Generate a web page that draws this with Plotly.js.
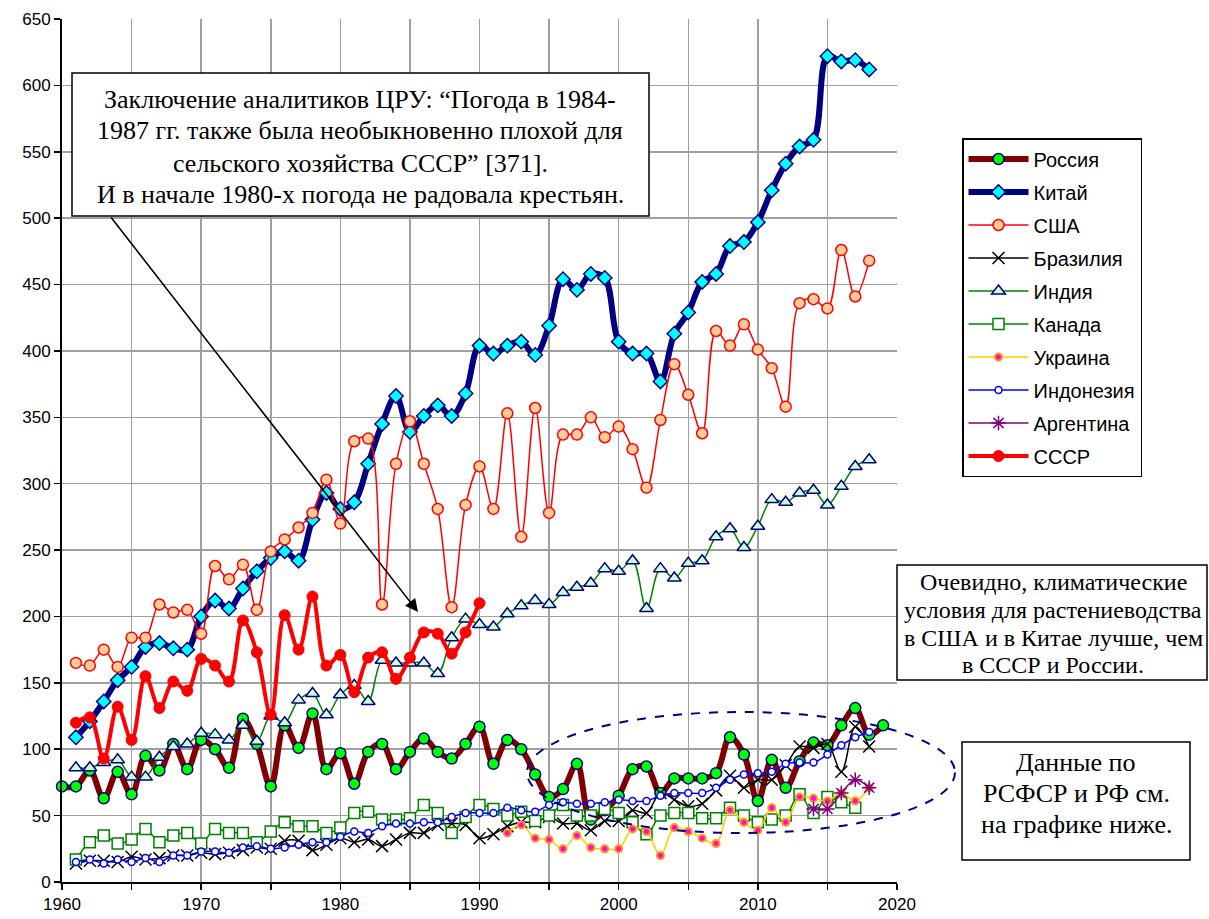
<!DOCTYPE html>
<html>
<head>
<meta charset="utf-8">
<script src="https://cdn.plot.ly/plotly-3.0.1.min.js"></script>
<style>html,body{margin:0;padding:0;background:#fff;}#chart{width:1209px;height:919px;}</style>
</head>
<body>
<div id="chart"></div>
<script>
function range(a, b) { var r = []; for (var i = a; i <= b; i++) r.push(i); return r; }

// ---- data ----
var yearsRussia = range(1960, 2019);
var russia = [72,72,84,63,83,66,95,84,104,85, 107,100,86,123,104,72,118,101,127,85,
  97,74,98,104,85,98,108,98,93,104, 117,89,107,100,81,64,70,89,47,54,
  65,85,87,67,78,78,78,82,109,96, 61,92,71,91,105,103,118,131,111,118];

var yearsChina = range(1961, 2018);
var china = [109,121,136,152,162,177,180,176,175, 200,212,206,221,234,244,249,242,273,293,
  281,286,315,345,366,339,351,359,351,368, 404,398,404,407,397,419,454,446,458,455,
  407,398,398,377,413,429,452,458,479,482, 497,521,541,554,559,622,618,619,612];

var yearsUSA = range(1961, 2018);
var usa = [165,163,175,162,184,184,209,203,205, 187,238,228,239,205,249,258,267,278,303,
  270,332,334,209,315,347,315,281,207,284, 313,281,353,260,357,278,337,337,350,335,
  343,326,297,348,390,367,338,415,404,420, 401,387,358,436,439,432,476,441,468];

var yearsBrazil = range(1961, 2018);
var brazil = [14,16,16,15,19,17,18,20,20, 22,21,22,24,26,25,31,31,24,28,
  33,30,32,27,32,37,37,43,44,43, 33,36,42,45,45,49,44,44,39,46,
  46,54,52,67,62,57,59,69,80,71, 77,77,88,102,101,104,83,117,102];

var yearsIndia = range(1961, 2018);
var india = [86,86,90,92,79,79,94,102,104, 112,111,107,118,106,125,120,137,142,126,
  141,148,136,167,165,165,165,157,184,198, 194,192,202,208,212,209,218,222,225,236,
  234,242,206,236,229,240,242,260,266,252, 268,288,286,293,295,284,298,313,318];

var yearsCanada = range(1961, 2017);
var canada = [17,30,35,29,32,40,30,35,37, 29,40,37,37,30,38,45,42,42,37,
  41,52,53,47,47,48,58,52,37,49, 58,55,50,53,46,50,58,50,50,55,
  52,45,36,50,52,52,48,48,56,50, 45,47,50,66,52,64,60,56];

var yearsUkraine = range(1992, 2018);
var ukraine = [37,43,33,32,25,35,26,25, 25,40,38,20,41,38,33,29,54,45, 39,56,45,64,63,61,67,61,71];

var yearsIndonesia = range(1961, 2018);
var indonesia = [15,17,14,17,15,18,15,20,20, 23,23,22,26,27,25,26,28,30,30,
  34,38,37,42,44,44,45,45,49,52, 52,52,56,54,53,58,60,59,59,60,
  62,61,61,65,67,67,67,71,77,81, 82,83,89,90,90,96,103,109,113];

var yearsArgentina = range(2014, 2018);
var argentina = [55,55,67,77,71];

var yearsUSSR = range(1961, 1990);
var ussr = [120,124,93,132,107,155,131,151,144, 168,163,151,197,173,126,201,175,215,163,
  171,143,169,173,153,169,188,187,172,188, 210];

var xTickVals = [1960,1965,1970,1975,1980,1985,1990,1995,2000,2005,2010,2015,2020];
var xTickText = ['1960','','1970','','1980','','1990','','2000','','2010','','2020'];

var box1Lines = ['Заключение аналитиков ЦРУ: “Погода в 1984-',
  '1987 гг. также была необыкновенно плохой для',
  'сельского хозяйства СССР” [371].',
  'И в начале 1980-х погода не радовала крестьян.'];
var box2Lines = ['Очевидно, климатические', 'условия для растениеводства',
  'в США и в Китае лучше, чем', 'в СССР и России.'];
var box3Lines = ['Данные по', 'РСФСР и РФ см.', 'на графике ниже.'];

// ---- traces ----
function tr(name, x, y, line, marker, grp) {
  return {type:'scatter', mode:'lines+markers', name:name, x:x, y:y,
    line:Object.assign({shape:'spline', smoothing:1}, line), marker:marker,
    legendgroup:grp, cliponaxis:false};
}
var traces = [
  tr('Россия', yearsRussia, russia, {color:'#800000', width:6},
     {symbol:'circle', size:11, color:'#00FF00', line:{color:'#000080', width:1.5}}, 'g01'),
  tr('Китай', yearsChina, china, {color:'#000080', width:6},
     {symbol:'diamond', size:11, color:'#00FFFF', line:{color:'#000080', width:1.5}}, 'g02'),
  tr('США', yearsUSA, usa, {color:'#FF0000', width:1.5},
     {symbol:'circle', size:11, color:'#FFCC99', line:{color:'#FF0000', width:1.5}}, 'g03'),
  tr('Бразилия', yearsBrazil, brazil, {color:'#000000', width:1.5},
     {symbol:'x-thin-open', size:12, color:'#000000', line:{color:'#000000', width:1.5}}, 'g04'),
  tr('Индия', yearsIndia, india, {color:'#008000', width:1.5},
     {symbol:'triangle-up', size:12, color:'#CCFFCC', line:{color:'#000080', width:1.5}}, 'g05'),
  tr('Канада', yearsCanada, canada, {color:'#008000', width:1.5},
     {symbol:'square', size:11, color:'#FFFFFF', line:{color:'#008000', width:1.5}}, 'g06'),
  tr('Украина', yearsUkraine, ukraine, {color:'#FFCC00', width:1.5},
     {symbol:'circle', size:7, color:'#FF00FF', line:{color:'#FF9900', width:2}}, 'g07'),
  tr('Индонезия', yearsIndonesia, indonesia, {color:'#0000FF', width:1.5},
     {symbol:'circle', size:7, color:'#FFFFFF', line:{color:'#0000FF', width:1.5}}, 'g08'),
  tr('Аргентина', yearsArgentina, argentina, {color:'#800080', width:1.5},
     {symbol:'asterisk-open', size:12, color:'#800080', line:{color:'#800080', width:1.5}}, 'g09'),
  tr('СССР', yearsUSSR, ussr, {color:'#FF0000', width:4},
     {symbol:'circle', size:11, color:'#FF0000', line:{color:'#FF0000', width:1}}, 'g10')
];

var L = 62, R = 897, T = 19, B = 882;
function px(xp) { return (xp - L) / (R - L); }
function py(yp) { return (B - yp) / (B - T); }

var serif = 'Liberation Serif, Times New Roman, serif';

var annotations = [
  {xref: 'paper', yref: 'paper', x: px(418), y: py(612), ax: 110 - 418, ay: 216 - 612,
   showarrow: true, arrowhead: 2, arrowsize: 1.6, arrowwidth: 1.6, arrowcolor: '#000', text: ''}
];
function addLines(lines, cx, ys, size) {
  lines.forEach(function (t, i) {
    annotations.push({xref: 'paper', yref: 'paper', x: px(cx), y: py(ys[i]),
      xanchor: 'center', yanchor: 'middle', showarrow: false, text: t,
      font: {family: serif, size: size, color: '#000'}});
  });
}
addLines(box1Lines, 360, [99, 131, 163, 194], 26);
addLines(box2Lines, 1053, [582, 610, 638, 665], 24);
addLines(box3Lines, 1076, [762, 793, 824], 26);

var layout = {
  width: 1209, height: 919,
  margin: {l: L, r: 1209 - R, t: T, b: 919 - B, pad: 0},
  paper_bgcolor: '#FFFFFF', plot_bgcolor: '#FFFFFF',
  showlegend: true,
  font: {family: 'Liberation Sans, Arial, sans-serif', color: '#000', size: 17},
  xaxis: {range: [1960, 2020], tickmode: 'array', tickvals: xTickVals, ticktext: xTickText,
    showgrid: true, gridcolor: '#A0A0A0', gridwidth: 1.5, zeroline: false,
    showline: true, linecolor: '#000', linewidth: 2, ticks: 'outside', ticklen: 6,
    tickwidth: 1.5, tickcolor: '#000', tickfont: {size: 17, color: '#000'}},
  yaxis: {range: [0, 650], dtick: 50, tick0: 0,
    showgrid: true, gridcolor: '#A0A0A0', gridwidth: 1.5, zeroline: false,
    showline: true, linecolor: '#000', linewidth: 2, ticks: 'outside', ticklen: 6,
    tickwidth: 1.5, tickcolor: '#000', tickfont: {size: 17, color: '#000'}},
  legend: {x: px(962), y: py(138), xanchor: 'left', yanchor: 'top',
    bordercolor: '#000', borderwidth: 1.5, bgcolor: '#FFF',
    font: {size: 20, color: '#000'}, itemwidth: 60, tracegroupgap: 4, traceorder: 'grouped'},
  shapes: [
    {type: 'rect', xref: 'paper', yref: 'paper', x0: px(72), x1: px(649), y0: py(216), y1: py(73),
     line: {color: '#000', width: 1.5}, fillcolor: '#FFF', layer: 'above'},
    {type: 'rect', xref: 'paper', yref: 'paper', x0: px(897), x1: px(1207), y0: py(680), y1: py(565),
     line: {color: '#000', width: 1.5}, fillcolor: '#FFF', layer: 'above'},
    {type: 'rect', xref: 'paper', yref: 'paper', x0: px(962), x1: px(1190), y0: py(860), y1: py(742),
     line: {color: '#000', width: 1.5}, fillcolor: '#FFF', layer: 'above'},
    {type: 'circle', xref: 'paper', yref: 'paper', x0: px(527), x1: px(955), y0: py(833), y1: py(712),
     line: {color: '#000080', width: 2, dash: 'dash'}, layer: 'above'}
  ],
  annotations: annotations
};

Plotly.newPlot('chart', traces, layout, {displayModeBar: false, staticPlot: true});
</script>
</body>
</html>
